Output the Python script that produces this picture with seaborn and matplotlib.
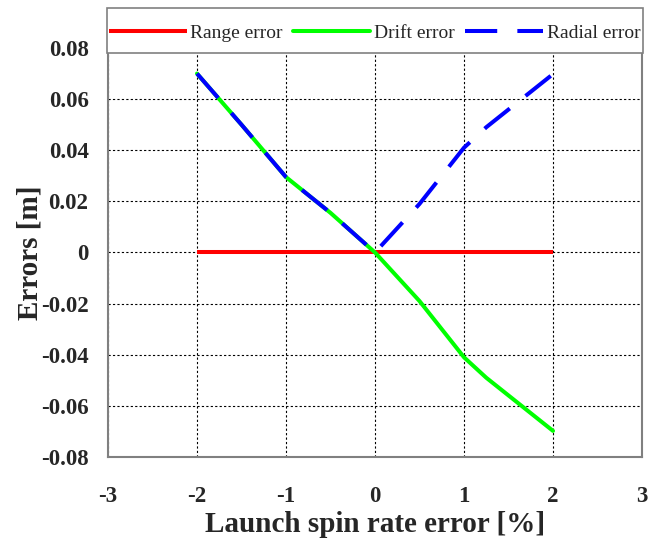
import matplotlib
matplotlib.use("Agg")
import matplotlib.pyplot as plt
from matplotlib.patches import Rectangle
import seaborn as sns
import pandas as pd

# Launch spin rate error [%] and resulting trajectory errors [m]
spin_error = [-2.0, -1.5, -1.0, -0.5, 0.0, 0.5, 1.0, 1.25, 2.0]
range_error = [0.0, 0.0, 0.0, 0.0, 0.0, 0.0, 0.0, 0.0, 0.0]
drift_error = [0.070, 0.050, 0.0295, 0.0155, 0.0, -0.019, -0.041, -0.049, -0.0698]
radial_error = [0.070, 0.050, 0.0295, 0.0155, 0.0, 0.019, 0.041, 0.049, 0.0698]

x_ticks = [-3, -2, -1, 0, 1, 2, 3]
y_ticks = [-0.08, -0.06, -0.04, -0.02, 0, 0.02, 0.04, 0.06, 0.08]
y_tick_labels = ["-0.08", "-0.06", "-0.04", "-0.02", "0", "0.02", "0.04", "0.06", "0.08"]

df = pd.DataFrame({
    "spin": spin_error,
    "range": range_error,
    "drift": drift_error,
    "radial": radial_error,
})

sns.set_style("white")
plt.rcParams["font.family"] = ["Liberation Serif", "DejaVu Serif"]

fig = plt.figure(figsize=(6.56, 5.41), dpi=100)
ax = fig.add_axes([0.1646, 0.1553, 0.8141, 0.756])

lw = 2.9
sns.lineplot(data=df, x="spin", y="range", ax=ax, color="#ff0000", lw=lw,
             label="Range error", solid_capstyle="butt", zorder=3)
sns.lineplot(data=df, x="spin", y="drift", ax=ax, color="#00ff00", lw=lw,
             label="Drift error", zorder=4)
sns.lineplot(data=df, x="spin", y="radial", ax=ax, color="#0000ff", lw=lw,
             label="Radial error", linestyle=(0, (8, 5)), dash_capstyle="butt",
             zorder=5)

ax.set_xlim(-3, 3)
ax.set_ylim(-0.08, 0.08)
ax.set_xticks(x_ticks)
ax.set_xticklabels([str(t) for t in x_ticks])
ax.set_yticks(y_ticks)
ax.set_yticklabels(y_tick_labels)
ax.tick_params(axis="both", length=0, labelsize=16.5)
ax.tick_params(axis="x", pad=21)
ax.tick_params(axis="y", pad=14)
for lab in ax.get_xticklabels() + ax.get_yticklabels():
    lab.set_fontweight("bold")

ax.grid(True, color="black", linestyle=(0, (2, 2)), linewidth=0.8)
for sp in ax.spines.values():
    sp.set_color("#808080")
    sp.set_linewidth(1.5)

ax.set_xlabel("Launch spin rate error [%]", fontsize=21, fontweight="bold", labelpad=3)
ax.set_ylabel("Errors [m]", fontsize=21, fontweight="bold", labelpad=-2)

# legend panel sitting over the top edge of the plot area
panel = Rectangle((-0.002, 0.988), 1.004, 0.110, transform=ax.transAxes,
                  facecolor="white", edgecolor="#808080", linewidth=1.2,
                  clip_on=False, zorder=9)
ax.add_patch(panel)

leg = ax.legend(loc="center", bbox_to_anchor=(0.499, 1.036),
                ncol=3, frameon=False, fontsize=14,
                handlelength=4.0, handletextpad=0.2,
                columnspacing=0.5, borderpad=0.25, borderaxespad=0)
leg.set_zorder(10)

fig.savefig("out.png", dpi=100)
